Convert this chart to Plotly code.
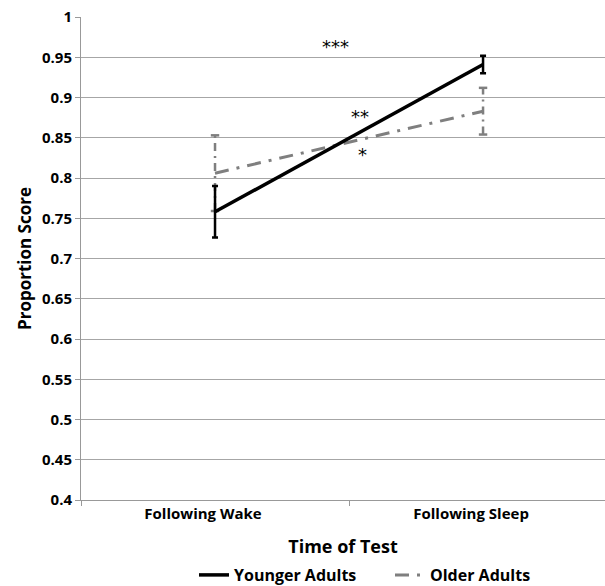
import plotly.graph_objects as go

categories = ["Following Wake", "Following Sleep"]
younger = [0.758, 0.941]
younger_err = [0.032, 0.011]
older = [0.806, 0.883]
older_err = [0.047, 0.029]
y_ticks = [0.4, 0.45, 0.5, 0.55, 0.6, 0.65, 0.7, 0.75, 0.8, 0.85, 0.9, 0.95, 1.0]
y_ticktext = ["0.4", "0.45", "0.5", "0.55", "0.6", "0.65", "0.7", "0.75", "0.8", "0.85", "0.9", "0.95", "1"]
sig_labels = ["***", "**", "*"]
sig_x = [0.45, 0.54, 0.55]
sig_y = [0.963, 0.876, 0.829]

FONT = "Open Sans"
GRAY = "#7f7f7f"
DASH = "14px,8px,3px,8px"

# dash-dot error bars for older adults (built from the data arrays)
err_x, err_y = [], []
cap_x, cap_y = [], []
for c, v, e in zip(categories, older, older_err):
    err_x += [c, c, None]
    err_y += [v - e, v + e, None]
    cap_x += [c, c]
    cap_y += [v - e, v + e]

fig = go.Figure()
fig.add_trace(go.Scatter(
    x=err_x, y=err_y, mode="lines", showlegend=False, hoverinfo="skip",
    line=dict(color=GRAY, width=2.5, dash="8px,5px,2px,5px"),
))
fig.add_trace(go.Scatter(
    x=cap_x, y=cap_y, mode="markers", showlegend=False, hoverinfo="skip",
    marker=dict(symbol="line-ew", size=6, line=dict(color=GRAY, width=2.5)),
))
fig.add_trace(go.Scatter(
    x=categories, y=older, mode="lines", name="Older Adults", legend="legend2",
    line=dict(color=GRAY, width=3, dash=DASH),
))
fig.add_trace(go.Scatter(
    x=categories, y=younger, mode="lines", name="Younger Adults", legend="legend",
    line=dict(color="black", width=3.5),
    error_y=dict(type="data", array=younger_err, visible=True, color="black", thickness=2.5, width=3),
))

for t, xv, yv in zip(sig_labels, sig_x, sig_y):
    fig.add_annotation(x=xv, y=yv, xref="x", yref="y", text=t, showarrow=False,
                       font=dict(family="DejaVu Sans", size=18, color="black"))

legend_font = dict(family=FONT, size=16, color="black", weight="bold")
LEG_Y = 1 - 575 / 586
fig.update_layout(
    width=605, height=586,
    margin=dict(l=81, r=0, t=17, b=86),
    paper_bgcolor="white", plot_bgcolor="white",
    font=dict(family=FONT, color="black"),
    showlegend=True,
    legend=dict(orientation="h", xref="container", yref="container",
                x=194 / 605, xanchor="left", y=LEG_Y, yanchor="middle",
                font=legend_font, bgcolor="rgba(0,0,0,0)"),
    legend2=dict(orientation="h", xref="container", yref="container",
                 x=390 / 605, xanchor="left", y=LEG_Y, yanchor="middle",
                 font=legend_font, bgcolor="rgba(0,0,0,0)"),
)
fig.update_xaxes(
    type="category", range=[-0.5, 1.455], automargin=False,
    showgrid=False, showline=True, linecolor="#999999", linewidth=1,
    ticks="outside", tickson="boundaries", ticklen=5, tickcolor="#999999",
    tickfont=dict(family=FONT, size=15, color="black", weight="bold"),
    ticklabelshift=-12,
    title=dict(text="Time of Test", font=dict(family=FONT, size=18, color="black", weight="bold"), standoff=20),
    zeroline=False,
)
fig.update_yaxes(
    range=[0.4, 1.0], tickvals=y_ticks, ticktext=y_ticktext, automargin=False,
    showgrid=True, gridcolor="#a6a6a6", gridwidth=1,
    showline=True, linecolor="#999999", linewidth=1,
    ticks="outside", ticklen=5, tickcolor="#999999",
    tickfont=dict(family=FONT, size=15, color="black", weight="bold"),
    title=dict(text="Proportion Score", font=dict(family=FONT, size=17, color="black", weight="bold"), standoff=6),
    zeroline=False,
)

fig.write_html("out.html", config={"displayModeBar": False},
               post_script="document.body.style.margin='0';document.body.style.overflow='hidden';")
